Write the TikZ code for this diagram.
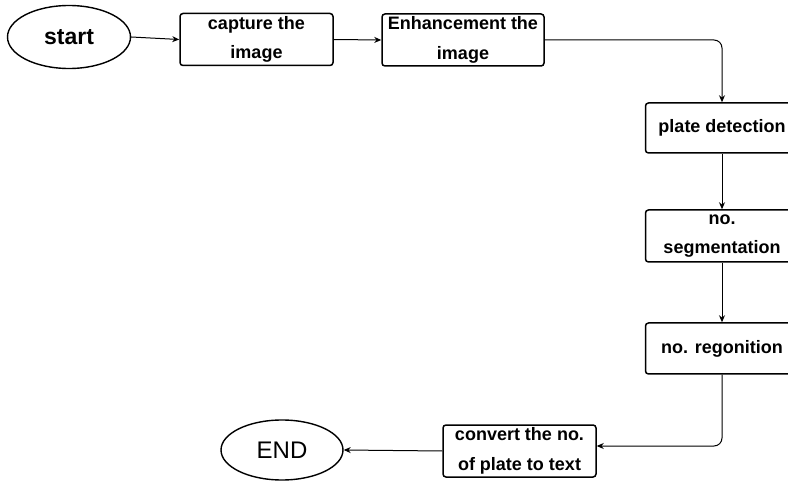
\documentclass[tikz,border=0pt]{standalone}
\usepackage{fontspec}
\setmainfont{Liberation Sans}
\usetikzlibrary{shapes.geometric,arrows.meta}
\begin{document}
\begin{tikzpicture}[x=1pt,y=-1pt,
  stepbox/.style={draw, line width=1.5pt, rounded corners=3pt, inner sep=0pt,
    minimum width=153pt, minimum height=52pt, align=center,
    font=\fontsize{18}{29.5}\selectfont\bfseries},
  term/.style={draw, ellipse, line width=1.4pt, inner sep=0pt},
  conn/.style={draw, line width=1pt, rounded corners=8pt, -{Stealth[length=7pt,width=6pt]}}
]
\useasboundingbox (0,0) rectangle (788,481);
\clip (0,0) rectangle (788,481);
\fill[white] (0,0) rectangle (788,481);

\node[term, minimum width=123pt, minimum height=63pt, font=\fontsize{23}{28}\selectfont\bfseries] (start) at (69,37) {start};
\node[stepbox] (capture) at (256.5,39.5) {capture the\\image};
\node[stepbox, minimum width=162pt] (enh) at (463,40) {Enhancement the\\image};
\node[stepbox, minimum height=50pt] (plate) at (722,128) {plate detection};
\node[stepbox] (seg) at (722,236) {no.\\segmentation};
\node[stepbox, minimum height=51pt] (reg) at (722,348.5) {no. regonition};
\node[stepbox] (conv) at (519.5,451) {convert the no.\\of plate to text};
\node[term, minimum width=122pt, minimum height=60pt, font=\fontsize{24}{28}\selectfont] (end) at (282,450) {END};

\coordinate (c1) at (722,40);
\coordinate (c2) at (722,446);

\draw[conn] (start.east) -- (capture.west);
\draw[conn] (capture.east) -- (enh.west);
\draw[conn] (enh.east) -- (c1) -- (plate.north);
\draw[conn] (plate.south) -- (seg.north);
\draw[conn] (seg.south) -- (reg.north);
\draw[conn] (reg.south) -- (c2) -- (conv.east |- c2);
\draw[conn] (conv.west) -- (end.east);
\end{tikzpicture}
\end{document}
